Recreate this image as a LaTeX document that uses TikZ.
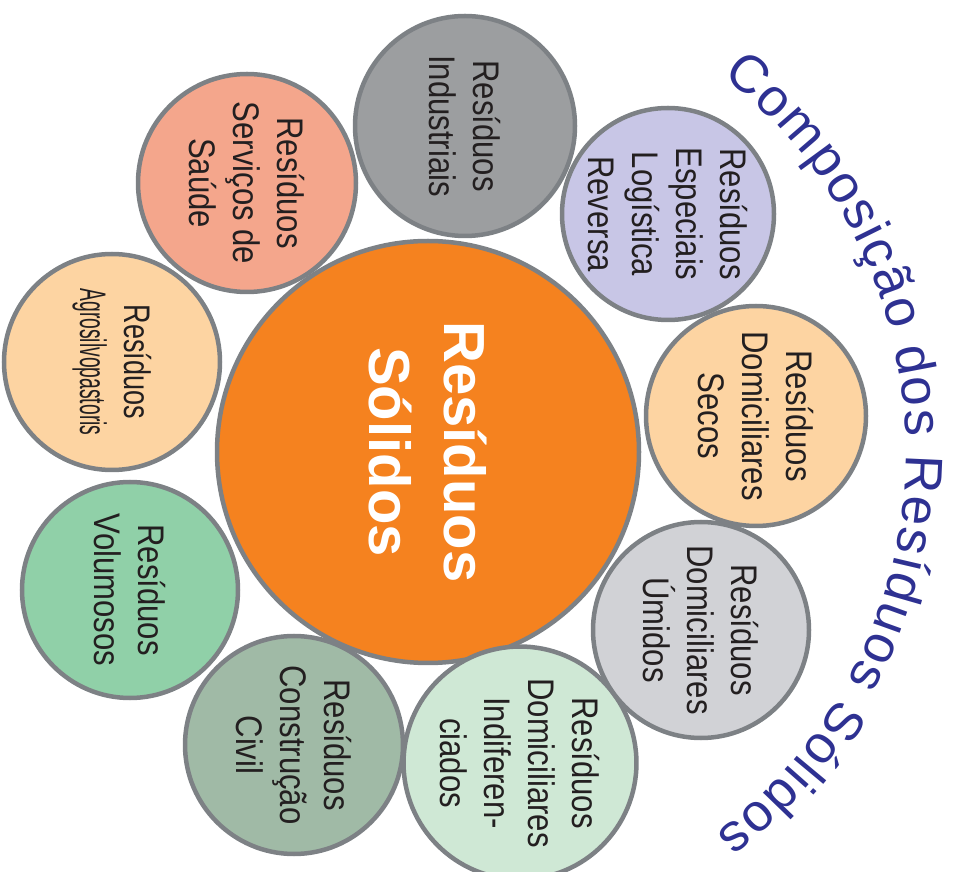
\documentclass[tikz,border=0pt]{standalone}
\usepackage{fontspec}
\usepackage{graphicx}
\setmainfont{Liberation Sans}
\newfontfamily\condfont[FakeStretch=0.84]{Liberation Sans}
\usetikzlibrary{decorations.text}
\definecolor{ringgray}{HTML}{7D8185}
\definecolor{txt}{HTML}{231F20}
\definecolor{navy}{HTML}{2E3192}
\definecolor{corange}{HTML}{F5821F}
\definecolor{cind}{HTML}{9C9EA0}
\definecolor{csau}{HTML}{F4A68C}
\definecolor{cpeach}{HTML}{FDD4A2}
\definecolor{cvol}{HTML}{90D0A8}
\definecolor{cciv}{HTML}{A0BAA6}
\definecolor{cindif}{HTML}{CFE8D5}
\definecolor{cumi}{HTML}{D1D2D6}
\definecolor{cesp}{HTML}{C8C6E6}
\begin{document}
\begin{tikzpicture}[x=1pt,y=1pt,
  ring/.style={circle, draw=ringgray, line width=4.5pt, inner sep=0pt, minimum size=#1},
  lbl/.style={rotate=-90, align=center, text=txt, font=\condfont\fontsize{37}{44}\selectfont},
  big/.style={rotate=-90, align=center, text=white, font=\bfseries\fontsize{58}{75}\selectfont}]
\useasboundingbox (0,0) rectangle (967,871);
\coordinate (c0) at (428,419);
\node[ring=422pt, fill=corange, big] (rs) at (c0) {Resíduos\\Sólidos};
\node[ring=220pt, fill=cind, lbl] (ind) at (465,745) {Resíduos\\Industriais};
\node[ring=218pt, fill=csau, lbl] (sau) at (247,688) {Resíduos\\Serviços de\\Saúde};
\node[ring=216pt, fill=cpeach, lbl] (agr) at (112,509) {\scalebox{0.87}[1]{Resíduos}\\\scalebox{0.62}[1]{Agrosilvopastoris}};
\node[ring=216pt, fill=cvol, lbl] (vol) at (130,281) {Resíduos\\Volumosos};
\node[ring=218pt, fill=cciv, lbl] (civ) at (294,126) {Resíduos\\Construção\\Civil};
\node[ring=216pt, fill=cindif, lbl] (idf) at (520,108) {Resíduos\\Domiciliares\\Indiferen-\\ciados};
\node[ring=216pt, fill=cumi, lbl] (umi) at (701,241) {Resíduos\\Domiciliares\\Úmidos};
\node[ring=220pt, fill=cpeach, lbl] (sec) at (756,455) {Resíduos\\Domiciliares\\Secos};
\node[ring=212pt, fill=cesp, lbl] (esp) at (668,657) {Resíduos\\Especiais\\Logística\\Reversa};
\path[decorate, decoration={text along path, text align=fit to path,
  text={|\color{navy}\fontsize{53}{53}\selectfont|Composição dos Resíduos Sólidos}}]
  (c0) ++(52:478) arc[start angle=52, end angle=-53, radius=478];
\end{tikzpicture}
\end{document}
